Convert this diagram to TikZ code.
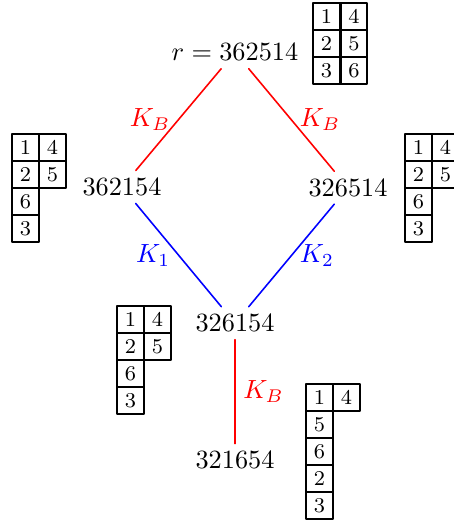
\documentclass[tikz,border=0pt]{standalone}
\begin{document}
\begin{tikzpicture}[
				line join = round,line cap = round,inner sep = 1mm,
				perm/.style={rectangle},
				cell/.style={rectangle,draw = black,thick,minimum width=0.36cm, minimum height=0.36cm,inner sep=0pt,font=\footnotesize},
				redge/.style={draw = red,semithick},
				bedge/.style={draw = blue,semithick}]
				\useasboundingbox (0,0) rectangle (6.066,6.988);
				\node at (3.14,6.29) (nodeR) [perm] {$r=362514$};
				\node at (1.63,4.49) (nodeL) [perm] {$362154$};
				\node at (4.65,4.48) (nodeRt) [perm] {$326514$};
				\node at (3.14,2.67) (nodeM) [perm] {$326154$};
				\node at (3.14,0.84) (nodeB) [perm] {$321654$};
				% tableau of r
				\node at (4.362,6.767) (t0-11) [cell] {$1$};
				\node at (4.729,6.767) (t0-12) [cell] {$4$};
				\node at (4.362,6.406) (t0-21) [cell] {$2$};
				\node at (4.729,6.406) (t0-22) [cell] {$5$};
				\node at (4.362,6.045) (t0-31) [cell] {$3$};
				\node at (4.729,6.045) (t0-32) [cell] {$6$};
				% left tableau
				\node at (0.341,5.017) (t1-11) [cell] {$1$};
				\node at (0.701,5.017) (t1-12) [cell] {$4$};
				\node at (0.341,4.656) (t1-21) [cell] {$2$};
				\node at (0.701,4.656) (t1-22) [cell] {$5$};
				\node at (0.341,4.295) (t1-31) [cell] {$6$};
				\node at (0.341,3.934) (t1-41) [cell] {$3$};
				% right tableau
				\node at (5.591,5.017) (t2-11) [cell] {$1$};
				\node at (5.952,5.017) (t2-12) [cell] {$4$};
				\node at (5.591,4.656) (t2-21) [cell] {$2$};
				\node at (5.952,4.656) (t2-22) [cell] {$5$};
				\node at (5.591,4.295) (t2-31) [cell] {$6$};
				\node at (5.591,3.934) (t2-41) [cell] {$3$};
				% middle tableau
				\node at (1.743,2.719) (t3-11) [cell] {$1$};
				\node at (2.104,2.719) (t3-12) [cell] {$4$};
				\node at (1.743,2.358) (t3-21) [cell] {$2$};
				\node at (2.104,2.358) (t3-22) [cell] {$5$};
				\node at (1.743,1.997) (t3-31) [cell] {$6$};
				\node at (1.743,1.637) (t3-41) [cell] {$3$};
				% bottom tableau
				\node at (4.268,1.677) (t4-11) [cell] {$1$};
				\node at (4.629,1.677) (t4-12) [cell] {$4$};
				\node at (4.268,1.316) (t4-21) [cell] {$5$};
				\node at (4.268,0.955) (t4-31) [cell] {$6$};
				\node at (4.268,0.595) (t4-41) [cell] {$2$};
				\node at (4.268,0.234) (t4-51) [cell] {$3$};
				% edges
				\draw[redge] (nodeR) to node[left,red]{$K_B$} (nodeL);
				\draw[redge] (nodeR) to node[right,red]{$K_B$} (nodeRt);
				\draw[bedge] (nodeL) to node[left,blue]{$K_1$} (nodeM);
				\draw[bedge] (nodeRt) to node[right,blue]{$K_2$} (nodeM);
				\draw[redge] (nodeM) to node[right,red]{$K_B$} (nodeB);
			\end{tikzpicture}
\end{document}
